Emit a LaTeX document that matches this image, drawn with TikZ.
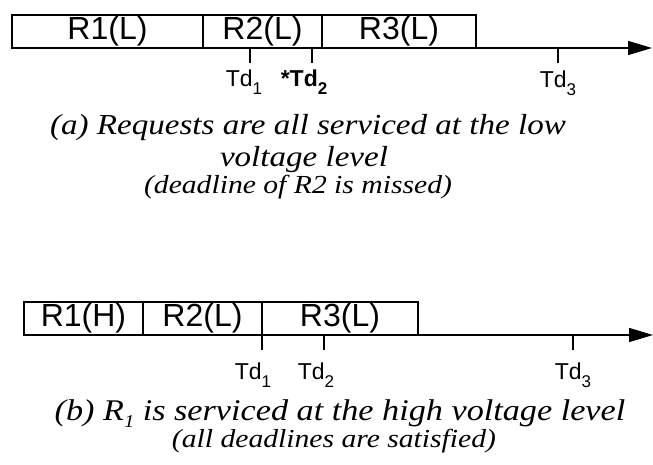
\documentclass[tikz,border=0pt]{standalone}
\usepackage{fontspec}
\setmainfont{Liberation Sans}
\newfontfamily\capfont{Liberation Serif}[FakeStretch=1.14]
\usetikzlibrary{arrows.meta}
\newcommand{\tdname}[1]{Td\raisebox{-8pt}{\fontsize{17}{17}\selectfont #1}}

\begin{document}
\begin{tikzpicture}[x=1pt,y=-1pt,
  req/.style={draw,line width=1.2pt,minimum height=33pt,inner sep=0pt,outer sep=0pt,anchor=north west,font=\fontsize{32}{32}\selectfont},
  tickmark/.style={line width=1.3pt},
  timeaxis/.style={line width=1.6pt,-{Triangle[length=24pt,width=14pt]}},
  tdlab/.style={anchor=base,inner sep=0pt,font=\fontsize{23}{23}\selectfont},
  captext/.style={anchor=base,inner sep=0pt,font=\capfont\itshape\fontsize{29}{29}\selectfont},
  capsmall/.style={anchor=base,inner sep=0pt,font=\capfont\itshape\fontsize{26}{26}\selectfont}]
\useasboundingbox (0,0) rectangle (653,465);
\node[req,minimum width=191pt] (a1) at (12,15) {R1(L)};
\node[req,minimum width=119pt] (a2) at (a1.north east) {R2(L)};
\node[req,minimum width=154pt] (a3) at (a2.north east) {R3(L)};
\coordinate (aend) at (652,48);
\draw[timeaxis] (a1.south west) -- (aend);
\coordinate (ad1) at (250,48);
\coordinate (ad2) at (312,48);
\coordinate (ad3) at (558,48);
\draw[tickmark] (ad1) -- ++(0,15);
\draw[tickmark] (ad2) -- ++(0,15);
\draw[tickmark] (ad3) -- ++(0,15);
\node[tdlab] (la1) at (244,87) {\tdname{1}};
\node[tdlab] (la2) at (304,87) {\bfseries *\tdname{2}};
\node[tdlab] (la3) at (558,88) {\tdname{3}};
\node[captext] (capa1) at (308,135) {(a) Requests are all serviced at the low};
\node[captext] (capa2) at (304,167) {voltage level};
\node[capsmall] (capa3) at (298,194) {(deadline of R2 is missed)};
\node[req,minimum width=119pt] (b1) at (24,302) {R1(H)};
\node[req,minimum width=119pt] (b2) at (b1.north east) {R2(L)};
\node[req,minimum width=156pt] (b3) at (b2.north east) {R3(L)};
\coordinate (bend) at (653,335);
\draw[timeaxis] (b1.south west) -- (bend);
\coordinate (bd1) at (262,335);
\coordinate (bd2) at (324,335);
\coordinate (bd3) at (573,335);
\draw[tickmark] (bd1) -- ++(0,15);
\draw[tickmark] (bd2) -- ++(0,15);
\draw[tickmark] (bd3) -- ++(0,15);
\node[tdlab] (lb1) at (253,379) {\tdname{1}};
\node[tdlab] (lb2) at (316,379) {\tdname{2}};
\node[tdlab] (lb3) at (573,379) {\tdname{3}};
\node[captext,font=\capfont\itshape\fontsize{30}{30}\selectfont] (capb1) at (340,420) {(b) R\raisebox{-7pt}{\fontsize{18}{18}\selectfont 1} is serviced at the high voltage level};
\node[capsmall] (capb2) at (334,447) {(all deadlines are satisfied)};
\end{tikzpicture}
\end{document}
